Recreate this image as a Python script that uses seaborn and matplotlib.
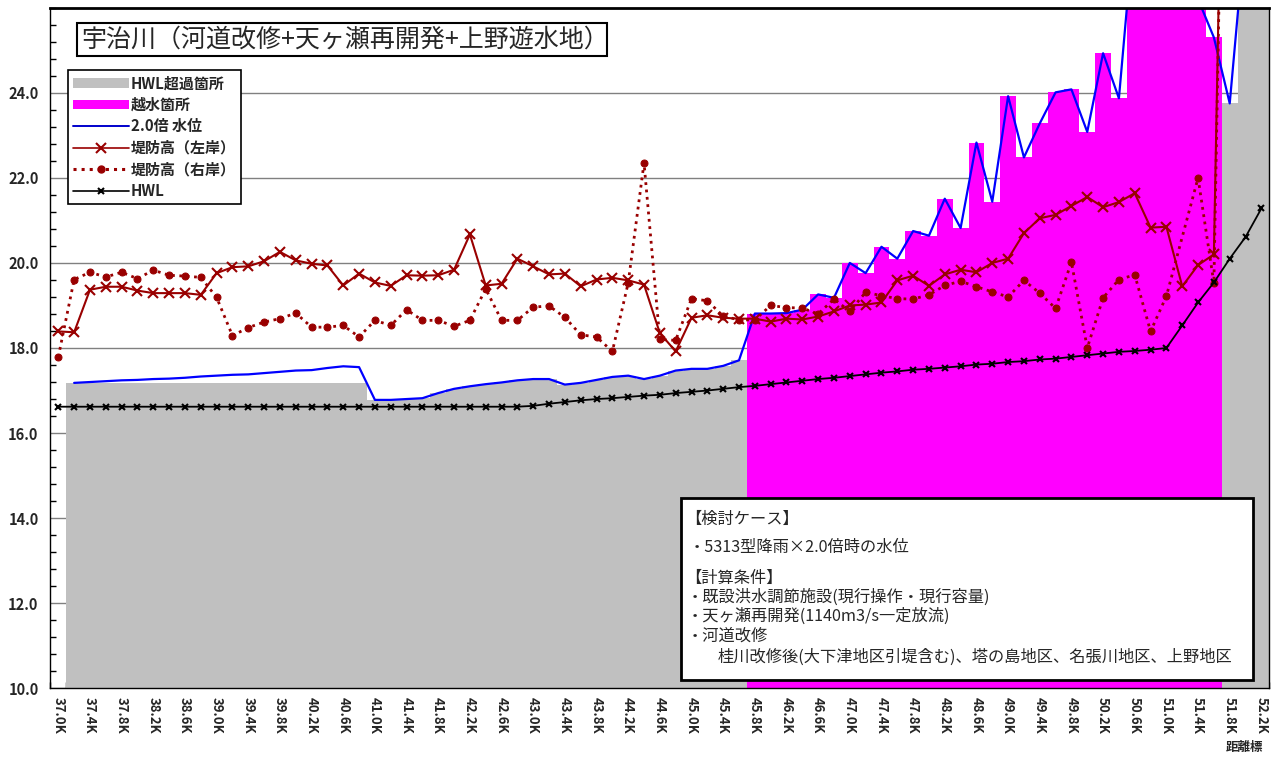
import numpy as np
import pandas as pd
import matplotlib
matplotlib.use("Agg")
import matplotlib.pyplot as plt
import seaborn as sns
from matplotlib.lines import Line2D
from matplotlib.patches import Patch, Rectangle
from matplotlib.ticker import FixedLocator, MultipleLocator

nan = np.nan

# distance markers (km)
km = [37.0, 37.2, 37.4, 37.6, 37.8, 38.0, 38.2, 38.4, 38.6, 38.8,
      39.0, 39.2, 39.4, 39.6, 39.8, 40.0, 40.2, 40.4, 40.6, 40.8,
      41.0, 41.2, 41.4, 41.6, 41.8, 42.0, 42.2, 42.4, 42.6, 42.8,
      43.0, 43.2, 43.4, 43.6, 43.8, 44.0, 44.2, 44.4, 44.6, 44.8,
      45.0, 45.2, 45.4, 45.6, 45.8, 46.0, 46.2, 46.4, 46.6, 46.8,
      47.0, 47.2, 47.4, 47.6, 47.8, 48.0, 48.2, 48.4, 48.6, 48.8,
      49.0, 49.2, 49.4, 49.6, 49.8, 50.0, 50.2, 50.4, 50.6, 50.8,
      51.0, 51.2, 51.4, 51.6, 51.8, 52.0, 52.2]

# 2.0倍 水位
water_level = [nan, 17.18, 17.20, 17.22, 17.24, 17.25, 17.27, 17.28, 17.30, 17.33,
               17.35, 17.37, 17.38, 17.41, 17.44, 17.47, 17.48, 17.53, 17.57, 17.55,
               16.78, 16.78, 16.80, 16.82, 16.94, 17.04, 17.10, 17.15, 17.19, 17.24,
               17.27, 17.27, 17.14, 17.18, 17.25, 17.32, 17.35, 17.27, 17.35, 17.47,
               17.51, 17.51, 17.58, 17.71, 18.81, 18.81, 18.82, 18.90, 19.26, 19.18,
               20.00, 19.76, 20.38, 20.10, 20.75, 20.64, 21.51, 20.82, 22.83, 21.44,
               23.92, 22.48, 23.28, 24.01, 24.08, 23.08, 24.93, 23.87, 28.10, 28.50,
               28.50, 28.00, 26.20, 25.30, 23.75, 27.90, 29.00]

# HWL超過箇所
hwl_excess = [nan, 17.18, 17.18, 17.18, 17.18, 17.18, 17.18, 17.18, 17.18, 17.18,
              17.18, 17.18, 17.18, 17.18, 17.18, 17.18, 17.18, 17.18, 17.18, 17.18,
              16.78, 16.78, 16.80, 16.82, 16.94, 17.04, 17.10, 17.15, 17.19, 17.24,
              17.27, 17.27, 17.14, 17.18, 17.25, 17.32, 17.35, 17.27, 17.35, 17.47,
              17.51, 17.51, 17.58, 17.71, nan, nan, nan, nan, nan, nan,
              nan, nan, nan, nan, nan, nan, nan, nan, nan, nan,
              nan, nan, nan, nan, nan, nan, nan, nan, nan, nan,
              nan, nan, nan, nan, 23.75, 27.90, 29.00]

# 越水箇所
overflow = [nan] * 44 + [18.81, 18.81, 18.82, 18.90, 19.26, 19.18,
                         20.00, 19.76, 20.38, 20.10, 20.75, 20.64, 21.51, 20.82, 22.83, 21.44,
                         23.92, 22.48, 23.28, 24.01, 24.08, 23.08, 24.93, 23.87, 28.10, 28.50,
                         28.50, 28.00, 26.20, 25.30] + [nan] * 3

# 堤防高（左岸）
levee_left = [18.39, 18.37, 19.37, 19.44, 19.44, 19.35, 19.29, 19.29, 19.29, 19.25,
              19.76, 19.90, 19.92, 20.04, 20.26, 20.06, 19.98, 19.94, 19.47, 19.75,
              19.54, 19.46, 19.71, 19.70, 19.71, 19.84, 20.67, 19.47, 19.51, 20.10,
              19.92, 19.73, 19.75, 19.45, 19.61, 19.65, 19.59, 19.49, 18.35, 17.92,
              18.71, 18.77, 18.71, 18.69, 18.69, 18.62, 18.69, 18.67, 18.74, 18.86,
              19.00, 19.02, 19.07, 19.59, 19.70, 19.46, 19.73, 19.84, 19.78, 20.00,
              20.10, 20.70, 21.05, 21.13, 21.34, 21.55, 21.31, 21.43, 21.64, 20.83,
              20.85, 19.45, 19.95, 20.20, 40.00, nan, nan]

# 堤防高（右岸）
levee_right = [17.79, 19.61, 19.78, 19.67, 19.78, 19.63, 19.83, 19.71, 19.69, 19.66,
               19.19, 18.29, 18.48, 18.61, 18.69, 18.82, 18.49, 18.49, 18.53, 18.26,
               18.65, 18.53, 18.90, 18.65, 18.65, 18.51, 18.65, 19.39, 18.65, 18.65,
               18.96, 18.99, 18.72, 18.31, 18.26, 17.92, 19.53, 22.35, 18.20, 18.18,
               19.16, 19.11, 18.75, 18.66, 18.66, 19.00, 18.95, 18.94, 18.80, 19.15,
               18.86, 19.31, 19.23, 19.16, 19.15, 19.25, 19.47, 19.57, 19.44, 19.32,
               19.20, 19.59, 19.29, 18.93, 20.02, 18.00, 19.18, 19.61, 19.72, 18.39,
               19.22, nan, 22.00, 19.52, 40.00, nan, nan]

# HWL
hwl = [16.62] * 30 + [16.64, 16.69, 16.73, 16.77, 16.80, 16.82, 16.85, 16.88, 16.90, 16.94,
                      16.97, 17.00, 17.04, 17.08, 17.11, 17.15, 17.19, 17.23, 17.27, 17.30,
                      17.34, 17.38, 17.42, 17.45, 17.49, 17.51, 17.54, 17.57, 17.61, 17.63,
                      17.67, 17.69, 17.73, 17.75, 17.79, 17.83, 17.87, 17.91, 17.93, 17.96,
                      18.00, 18.53, 19.07, 19.54, 20.10, 20.61, 21.28]

yticks = [10, 12, 14, 16, 18, 20, 22, 24]

title = "宇治川（河道改修+天ヶ瀬再開発+上野遊水地）"
note_lines = [
    "【検討ケース】",
    "・5313型降雨×2.0倍時の水位",
    "【計算条件】",
    "・既設洪水調節施設(現行操作・現行容量)",
    "・天ヶ瀬再開発(1140m3/s一定放流)",
    "・河道改修",
    "桂川改修後(大下津地区引堤含む)、塔の島地区、名張川地区、上野地区",
]

df = pd.DataFrame({
    "km": km, "wl": water_level, "gray": hwl_excess, "over": overflow,
    "left": levee_left, "right": levee_right, "hwl": hwl,
})

sns.set_style("white")
plt.rcParams["font.family"] = ["Noto Sans CJK JP", "DejaVu Sans"]

W, H = 1288, 758


def fx(px):
    return px / W


def fy(py):
    return 1 - py / H


fig = plt.figure(figsize=(W / 100, H / 100), dpi=100)
ax = fig.add_axes([fx(50.4), fy(688.3), (1269.3 - 50.4) / W, (688.3 - 7.7) / H])

dark_red = "#990000"

g = df.dropna(subset=["gray"])
sns.barplot(data=g, x="km", y="gray", native_scale=True, orient="x", width=1.0,
            color="#c0c0c0", saturation=1, errorbar=None, linewidth=0, ax=ax)
m = df.dropna(subset=["over"])
sns.barplot(data=m, x="km", y="over", native_scale=True, orient="x", width=1.0,
            color="#ff00ff", saturation=1, errorbar=None, linewidth=0, ax=ax)

w = df.dropna(subset=["wl"])
sns.lineplot(data=w, x="km", y="wl", color="#0000ff", linewidth=1.6, sort=False,
             estimator=None, ax=ax)
l = df.dropna(subset=["left"])
sns.lineplot(data=l, x="km", y="left", color=dark_red, linewidth=1.5, marker="x",
             markersize=7, markeredgecolor=dark_red, markeredgewidth=1.5,
             sort=False, estimator=None, ax=ax)
r = df.dropna(subset=["right"])
sns.lineplot(data=r, x="km", y="right", color=dark_red, linewidth=2, linestyle=":",
             marker="o", markersize=5, markeredgecolor=dark_red, markerfacecolor=dark_red,
             sort=False, estimator=None, ax=ax)
sns.lineplot(data=df, x="km", y="hwl", color="black", linewidth=1.3, marker="x",
             markersize=4, markeredgecolor="black", markeredgewidth=1.5,
             sort=False, estimator=None, ax=ax)

ax.set_xlim(36.9, 52.3)
ax.set_ylim(10, 26)
ax.set_xlabel("")
ax.set_ylabel("")

ax.set_yticks(yticks)
ax.set_yticklabels([f"{v:.1f}" for v in yticks], fontsize=10.5, fontweight="bold")
ax.yaxis.set_minor_locator(MultipleLocator(0.4))
ax.tick_params(axis="y", which="major", direction="out", length=5, width=1, color="black")
ax.tick_params(axis="y", which="minor", direction="in", length=4, width=1, color="black", left=True)

ax.set_xticks(km[::2])
ax.set_xticklabels([f"{v:.1f}K" for v in km[::2]], rotation=270, fontsize=9.5, fontweight="bold")
ax.xaxis.set_minor_locator(FixedLocator([k - 0.1 for k in km] + [52.3]))
ax.tick_params(axis="x", which="major", length=0, pad=6)
ax.tick_params(axis="x", which="minor", direction="in", length=4, width=1, color="black", bottom=True)

ax.yaxis.grid(True, color="#808080", linewidth=1)
ax.xaxis.grid(False)
ax.set_axisbelow(True)
for side, sp in ax.spines.items():
    sp.set_color("black")
    sp.set_linewidth(1)
ax.spines["top"].set_linewidth(2)

handles = [
    Patch(facecolor="#c0c0c0", edgecolor="none"),
    Patch(facecolor="#ff00ff", edgecolor="none"),
    Line2D([], [], color="#0000cc", linewidth=1.4),
    Line2D([], [], color=dark_red, linewidth=1.2, marker="x", markersize=7, markeredgewidth=1.5),
    Line2D([], [], color=dark_red, linewidth=2.2, linestyle=":", marker="o", markersize=5),
    Line2D([], [], color="black", linewidth=1.2, marker="x", markersize=4, markeredgewidth=1.5),
]
labels = ["HWL超過箇所", "越水箇所", "2.0倍 水位", "堤防高（左岸）", "堤防高（右岸）", "HWL"]
leg = ax.legend(handles, labels, loc="upper left", bbox_to_anchor=(fx(68), fy(70)),
                bbox_transform=fig.transFigure, borderaxespad=0, frameon=True,
                fancybox=False, edgecolor="black", framealpha=1,
                handlelength=3.7, handleheight=0.6, handletextpad=0.15, labelspacing=0.37,
                borderpad=0.35, prop={"weight": "bold", "size": 10.8})
leg.get_frame().set_linewidth(1.2)

fig.add_artist(Rectangle((fx(77), fy(56)), (607 - 77) / W, (56 - 23) / H,
                         transform=fig.transFigure, facecolor="white", edgecolor="black",
                         linewidth=1.5, zorder=5))
fig.text(fx(81), fy(40), title, fontsize=18, va="center", ha="left", zorder=6)

fig.add_artist(Rectangle((fx(681), fy(680)), (1253 - 681) / W, (680 - 498) / H,
                         transform=fig.transFigure, facecolor="white", edgecolor="black",
                         linewidth=2, zorder=5))
note_pos = [(685, 519), (689, 547), (685, 578), (687, 597), (687, 616), (687, 636), (718, 657)]
for (px, py), txt in zip(note_pos, note_lines):
    fig.text(fx(px), fy(py), txt, fontsize=11.7, va="center", ha="left", zorder=6)

fig.text(fx(1245), fy(748), "距離標", fontsize=9, ha="center", va="center", weight="bold")

fig.savefig("out.png", dpi=100)
